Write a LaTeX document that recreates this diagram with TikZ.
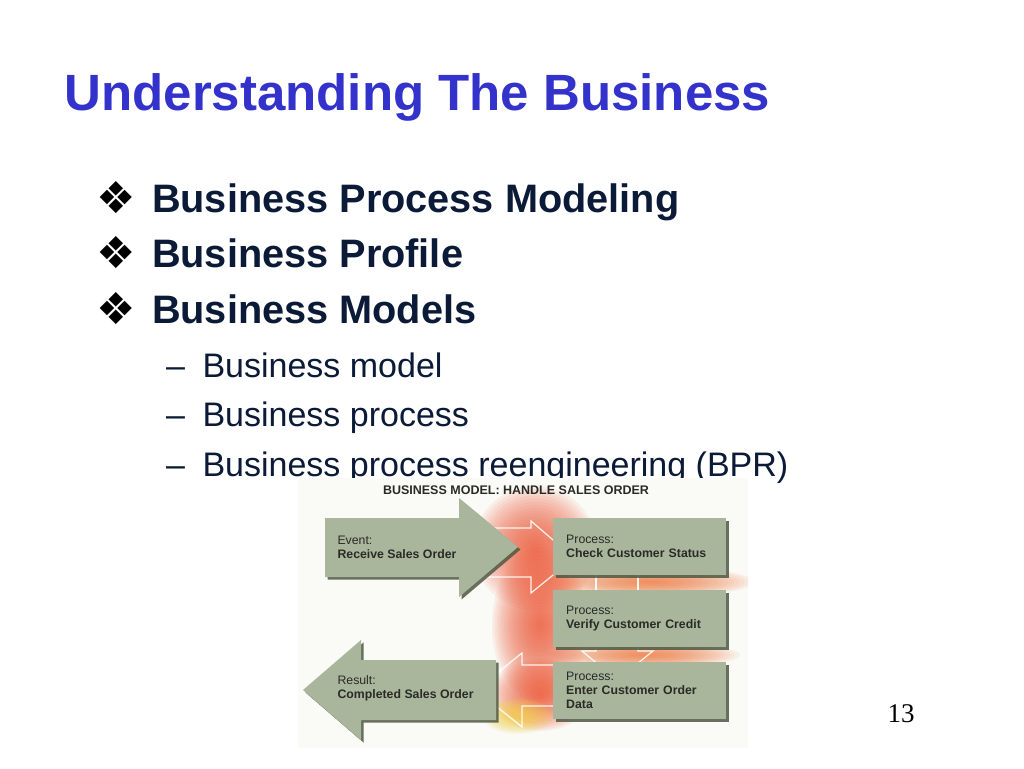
\documentclass[tikz,border=0pt]{standalone}
\usepackage{fontspec}
\setmainfont{Liberation Sans}
\newfontfamily\dingfont{DejaVu Sans}
\newfontfamily\numfont{Liberation Serif}
\usetikzlibrary{shadows}

\definecolor{titleblue}{HTML}{3333CC}
\definecolor{ink}{HTML}{0B1A36}
\definecolor{sage}{HTML}{A9B69C}
\definecolor{sagedark}{HTML}{4E5944}
\definecolor{boxink}{HTML}{2A2A26}
\definecolor{glowred}{HTML}{EE5533}
\definecolor{gloworange}{HTML}{F07A40}
\definecolor{glowyellow}{HTML}{F2D24A}
\definecolor{figbg}{HTML}{FAFAF6}

\newcommand{\glowspot}[5]{%
  \foreach \k in {1,...,20}
    \fill [#1, fill opacity=.075] (#2,#3) ellipse ({#4*\k/20} and {#5*\k/20});}

\tikzset{
  diamondbullet/.style={anchor=center, font=\dingfont\fontsize{44}{50}\selectfont, text=black},
  topitem/.style={anchor=base west, font=\fontsize{39.7}{46}\selectfont\bfseries, text=ink},
  subitem/.style={anchor=base west, font=\fontsize{34}{40}\selectfont, text=ink},
  shape shadow/.style={drop shadow={shadow xshift=2.5pt, shadow yshift=-2.5pt, fill=sagedark, opacity=.85}},
  procbox/.style={shape shadow, fill=sage, anchor=north west, minimum height=57pt, text width=147pt,
    inner xsep=13pt, align=left, font=\fontsize{12.3}{14}\selectfont, text=boxink},
  arrowtext/.style={anchor=west, align=left, font=\fontsize{12.3}{14}\selectfont, text=boxink},
  ghost/.style={draw=white, line width=1.2pt, opacity=.9}
}

\begin{document}
\begin{tikzpicture}[x=1pt,y=-1pt]
  \useasboundingbox[fill=white] (0,0) rectangle (1024,768);

  \node [anchor=base west, font=\fontsize{51}{60}\selectfont\bfseries, text=titleblue] (title) at (61,110) {Understanding The Business};

  \node [diamondbullet] (b1) at (116,198) {❖};
  \node [topitem] (t1) at (148.5,212) {Business Process Modeling};
  \node [diamondbullet] (b2) at (116,253) {❖};
  \node [topitem] (t2) at (148.5,267) {Business Profile};
  \node [diamondbullet] (b3) at (116,309) {❖};
  \node [topitem] (t3) at (148.5,323) {Business Models};

  \node [subitem] (d1) at (162.5,377) {–};
  \node [subitem] (s1) at (199,377) {Business model};
  \node [subitem] (d2) at (162.5,426) {–};
  \node [subitem] (s2) at (199,426) {Business process};
  \node [subitem] (d3) at (162.5,476) {–};
  \node [subitem] (s3) at (199,476) {Business process reengineering (BPR)};

  \fill [figbg] (298,478) rectangle (748,748);
  \begin{scope}
    \clip (298,478) rectangle (748,748);
    \glowspot{glowred}{535}{548}{62}{62}
    \glowspot{glowred}{540}{625}{48}{78}
    \glowspot{gloworange}{650}{582}{105}{15}
    \glowspot{gloworange}{645}{655}{95}{13}
    \glowspot{glowred}{540}{695}{50}{36}
    \glowspot{glowyellow}{518}{716}{36}{18}
  \end{scope}

  \draw [ghost] (470,528) -- (531,528) -- (531,521) -- (574,558) -- (531,593) -- (531,577) -- (470,577);
  \draw [ghost] (596,570) -- (596,595);
  \draw [ghost] (638,570) -- (638,595);
  \draw [ghost] (596,640) -- (596,651) -- (582,651) -- (617,680) -- (653,651) -- (638,651) -- (638,640);
  \draw [ghost] (560,665) -- (522,665) -- (522,653) -- (476,690) -- (522,727) -- (522,706) -- (560,706);

  \node [font=\fontsize{12.5}{14}\selectfont\bfseries, text=boxink] (figtitle) at (516,490) {BUSINESS MODEL: HANDLE SALES ORDER};

  \fill [sage, shape shadow] (325,518) -- (459,518) -- (459,498) -- (518,547) -- (459,597) -- (459,577) -- (325,577) -- cycle;
  \fill [sage, shape shadow] (496,660) -- (361,660) -- (361,640) -- (303,690) -- (361,740) -- (361,720) -- (496,720) -- cycle;

  \node [arrowtext] (event) at (334,547) {Event:\\ \textbf{Receive Sales Order}};
  \node [arrowtext] (result) at (334,688) {Result:\\ \textbf{Completed Sales Order}};

  \node [procbox] (check) at (553,518) {Process:\\ \textbf{Check Customer Status}};
  \node [procbox] (verify) at (553,590) {Process:\\ \textbf{Verify Customer Credit}};
  \node [procbox] (enter) at (553,662) {Process:\\ \textbf{Enter Customer Order}\\ \textbf{Data}};

  \node [anchor=base west, font=\numfont\fontsize{27}{30}\selectfont] (page) at (884,722) {13};
\end{tikzpicture}
\end{document}
